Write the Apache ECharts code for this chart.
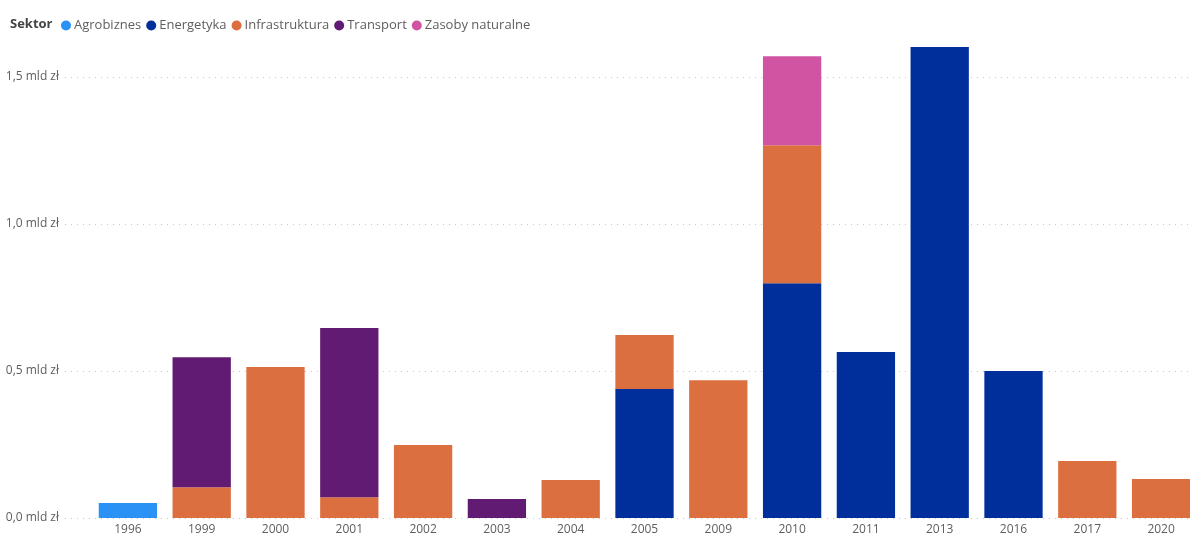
<!DOCTYPE html>
<html><head><meta charset="utf-8">
<script src="https://cdn.jsdelivr.net/npm/echarts@6/dist/echarts.min.js"></script>
<style>html,body{margin:0;padding:0;background:#fff;overflow:hidden}#c{width:1200px;height:534px}</style>
</head><body><div id="c"></div>
<script>
const categories = ['1996','1999','2000','2001','2002','2003','2004','2005','2009','2010','2011','2013','2016','2017','2020'];
const seriesNames = ['Agrobiznes','Energetyka','Infrastruktura','Transport','Zasoby naturalne'];
const agrobiznes     = [0.051,null,null,null,null,null,null,null,null,null,null,null,null,null,null];
const energetyka     = [null,null,null,null,null,null,null,0.439,null,0.799,0.565,1.602,0.500,null,null];
const infrastruktura = [null,0.105,0.514,0.071,0.248,null,0.129,0.184,0.469,0.469,null,null,null,0.194,0.133];
const transport      = [null,0.442,null,0.575,null,0.065,null,null,null,null,null,null,null,null,null];
const zasoby         = [null,null,null,null,null,null,null,null,null,0.303,null,null,null,null,null];
const yTicks = [0, 0.5, 1.0, 1.5];
const colors = ['#2A91F5','#002F9C','#DB6F3F','#621B73','#D154A3'];
const font = '"Segoe UI","Open Sans","Noto Sans",sans-serif';

const dataArr = [agrobiznes, energetyka, infrastruktura, transport, zasoby];
const chart = echarts.init(document.getElementById('c'));
chart.setOption({
  animation: false,
  color: colors,
  textStyle: {fontFamily: font},
  graphic: [{type:'text', left: 10, top: 18, style:{text:'Sektor', font:'bold 13px ' + font, fill:'#444'}}],
  legend: {
    left: 61, top: 19, padding: 0, icon: 'circle', itemWidth: 10, itemHeight: 10, itemGap: 5,
    textStyle: {fontSize: 13, color: '#605E5C', fontFamily: font, padding: [0,0,0,-2]},
    data: seriesNames
  },
  grid: [
    {left: 91, width: 1107, top: 33, bottom: 16, containLabel: false, outerBoundsMode: 'none'},
    {left: 65, right: 10, top: 77, bottom: 16, containLabel: false, outerBoundsMode: 'none'}
  ],
  xAxis: [
    {gridIndex: 0, type: 'category', data: categories,
     axisLine:{show:false}, axisTick:{show:false},
     axisLabel:{color:'#605E5C', fontSize: 12, margin: 6, fontFamily: font}},
    {gridIndex: 1, type: 'value', show: false, min: 0, max: 1}
  ],
  yAxis: [
    {gridIndex: 0, type: 'value', min: 0, max: 1.65, show: false},
    {gridIndex: 1, type: 'value', min: 0, max: 1.5, interval: 0.5,
     axisLine:{show:false}, axisTick:{show:false},
     axisLabel:{color:'#605E5C', fontSize: 12, margin: 6, fontFamily: font,
       formatter: v => v.toFixed(1).replace('.', ',') + ' mld zł'},
     splitLine:{lineStyle:{type:[1,5], color:'#C8C8C8', width:1}}}
  ],
  series: seriesNames.map((n, i) => ({
    name: n, type: 'bar', stack: 'total', xAxisIndex: 0, yAxisIndex: 0,
    barCategoryGap: '21%', data: dataArr[i],
    itemStyle: {color: colors[i]}
  })).concat([{type:'line', xAxisIndex:1, yAxisIndex:1, data:[], silent:true}])
});
</script></body></html>
